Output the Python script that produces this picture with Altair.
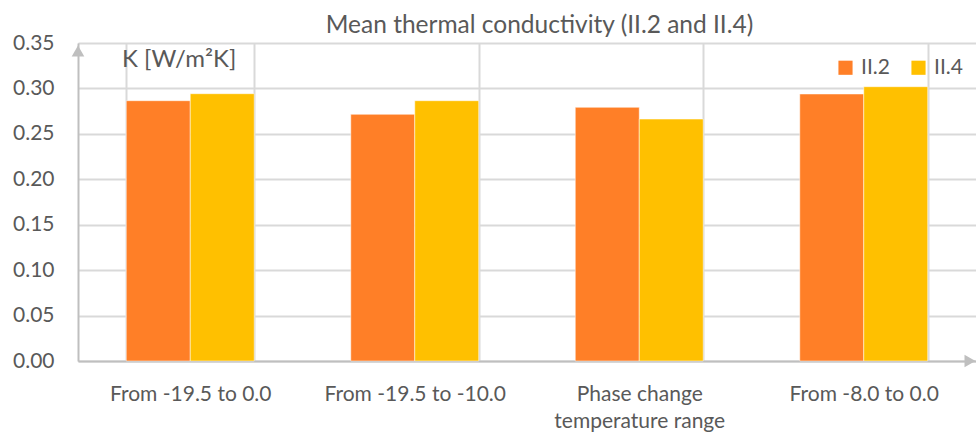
import altair as alt
import pandas as pd

categories = ["From -19.5 to 0.0", "From -19.5 to -10.0", "Phase change\ntemperature range", "From -8.0 to 0.0"]
series = ["II.2", "II.4"]
ii2_values = [0.2865, 0.2715, 0.2792, 0.2939]
ii4_values = [0.2942, 0.2865, 0.2663, 0.3019]
y_ticks = [0.0, 0.05, 0.10, 0.15, 0.20, 0.25, 0.30, 0.35]
title_text = ["Mean thermal conductivity (II.2 and II.4)"]
unit_text = ["K [W/m²K]"]

rows = []
for c, a, b in zip(categories, ii2_values, ii4_values):
    rows.append({"cat": c, "series": "II.2", "value": a})
    rows.append({"cat": c, "series": "II.4", "value": b})
df = pd.DataFrame(rows)

FONT = "Lato"
GRAY = "#595959"
GRID = "#d9d9d9"
W, H = 898, 318

bars = alt.Chart(df).mark_bar(stroke="white", strokeWidth=0.5).encode(
    x=alt.X("cat:N", sort=categories, title=None,
            scale=alt.Scale(paddingInner=0.43, paddingOuter=0.215),
            axis=alt.Axis(labelExpr="split(datum.label, '\\n')", labelAngle=0,
                          labelFont=FONT, labelFontSize=21, labelColor=GRAY,
                          labelPadding=22, labelLineHeight=27, labelLimit=400,
                          ticks=False, domainColor="#bfbfbf", domainWidth=2,
                          grid=True, gridColor=GRID, gridWidth=2,
                          tickBand="extent")),
    xOffset=alt.XOffset("series:N", sort=series,
                        scale=alt.Scale(paddingInner=0, paddingOuter=0)),
    y=alt.Y("value:Q", title=None,
            scale=alt.Scale(domain=[0, 0.35], nice=False),
            axis=alt.Axis(values=y_ticks, format=".2f", labelFont=FONT,
                          labelFontSize=21, labelColor=GRAY, labelPadding=24,
                          ticks=False, domainColor="#bfbfbf", domainWidth=2,
                          grid=True, gridColor=GRID, gridWidth=2)),
    color=alt.Color("series:N", sort=series,
                    scale=alt.Scale(domain=series, range=["#FF7F27", "#FFC000"]),
                    legend=alt.Legend(title=None, orient="none", direction="horizontal",
                                      legendX=757, legendY=14, symbolType="square",
                                      symbolSize=200, symbolStrokeWidth=0,
                                      labelFont=FONT, labelFontSize=21,
                                      labelColor=GRAY, columnPadding=18,
                                      labelOffset=5)),
)

title_mark = alt.Chart(pd.DataFrame({"t": title_text})).mark_text(
    font=FONT, fontSize=24.5, color=GRAY, align="center", baseline="alphabetic"
).encode(text="t:N", x=alt.value(461.5), y=alt.value(-10))

unit_label = alt.Chart(pd.DataFrame({"t": unit_text})).mark_text(
    font=FONT, fontSize=24, color=GRAY, align="left", baseline="middle"
).encode(text="t:N", x=alt.value(44), y=alt.value(17))

y_arrow = alt.Chart(pd.DataFrame({"a": [1]})).mark_point(
    shape="triangle-up", filled=True, color="#bfbfbf", size=160, opacity=1
).encode(x=alt.value(0), y=alt.value(8))

x_arrow = alt.Chart(pd.DataFrame({"a": [1]})).mark_point(
    shape="triangle-right", filled=True, color="#bfbfbf", size=160, opacity=1
).encode(x=alt.value(892), y=alt.value(H))

chart = alt.layer(bars, title_mark, unit_label, y_arrow, x_arrow).properties(
    width=W, height=H,
    autosize=alt.AutoSizeParams(type="none"),
    padding={"left": 78, "top": 43, "right": 0, "bottom": 71},
).configure_view(stroke=None).configure(background="white")

chart.save("out.html", embed_options={"renderer": "svg", "actions": False})
